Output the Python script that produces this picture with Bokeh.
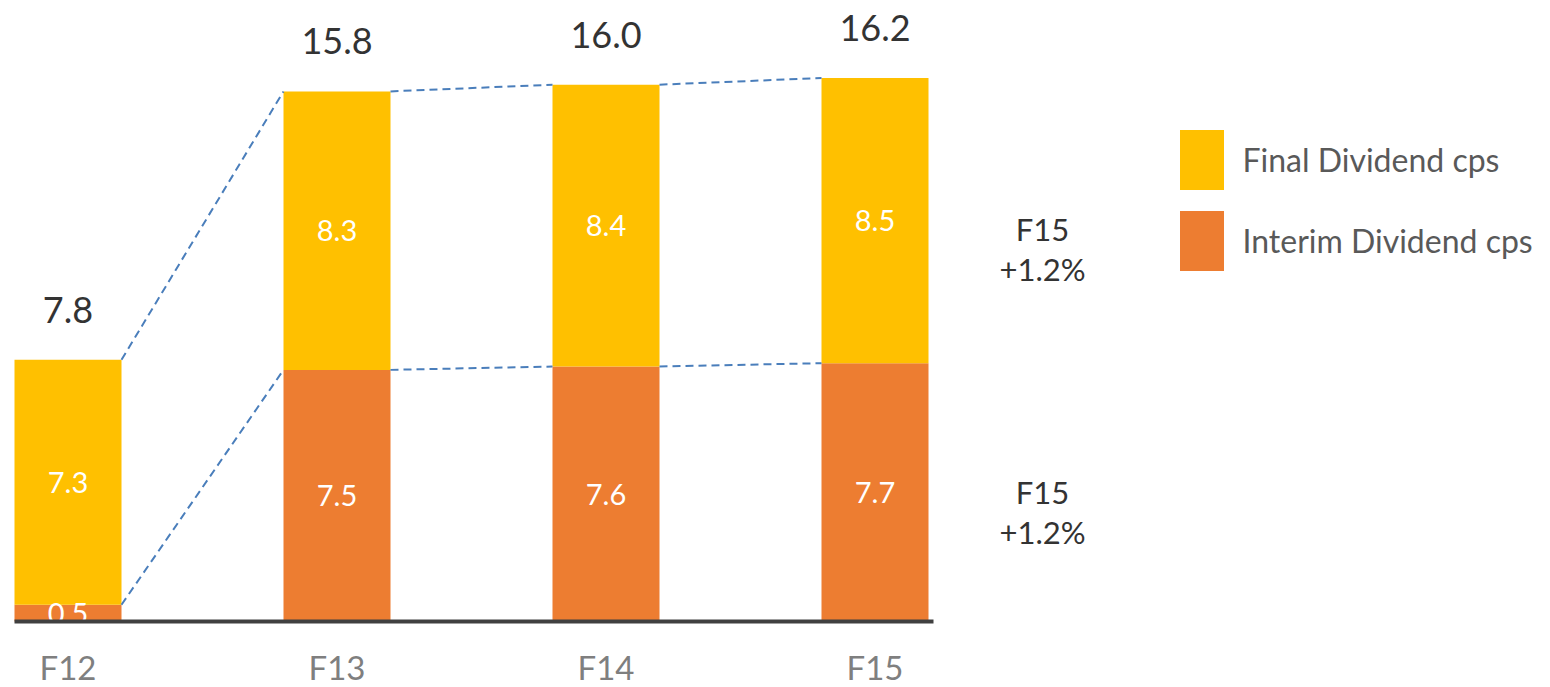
from bokeh.plotting import figure
from bokeh.models import Range1d, Legend, LegendItem, Label, ColumnDataSource
from bokeh.embed import file_html
from bokeh.resources import INLINE
from bokeh.core.properties import value

# ---- data ----
categories = ["F12", "F13", "F14", "F15"]
interim = [0.5, 7.5, 7.6, 7.7]
final = [7.3, 8.3, 8.4, 8.5]
totals = [7.8, 15.8, 16.0, 16.2]
series_names = ["Final Dividend cps", "Interim Dividend cps"]
growth_lines = ["F15", "+1.2%"]

FONT = "Lato"
YELLOW = "#FFC000"
ORANGE = "#ED7D31"
DASH_BLUE = "#4A7EBB"

# ---- geometry (pixel scale of the frame) ----
W_PX, H_PX = 1550, 687
PX_PER_CAT = 269.0
PX_PER_UNIT = 33.55
X_FIRST_PX = 67.5
BASE_PX = 621.0
BAR_W = 107.0 / PX_PER_CAT

x_start = -X_FIRST_PX / PX_PER_CAT
x_end = x_start + W_PX / PX_PER_CAT
y_end = BASE_PX / PX_PER_UNIT
y_start = -(H_PX - BASE_PX) / PX_PER_UNIT

p = figure(width=W_PX, height=H_PX, output_backend="svg", toolbar_location=None,
           x_range=Range1d(x_start, x_end), y_range=Range1d(y_start, y_end),
           min_border=0, min_border_left=0, min_border_right=0,
           min_border_top=0, min_border_bottom=0)
p.xaxis.visible = False
p.yaxis.visible = False
p.grid.visible = False
p.outline_line_color = None
p.background_fill_color = "white"
p.border_fill_color = "white"

xs = list(range(len(categories)))
src = ColumnDataSource(dict(
    x=xs, cat=categories, interim=interim, final=final, totals=totals,
    interim_mid=[v / 2 for v in interim],
    final_mid=[i + f / 2 for i, f in zip(interim, final)],
    interim_txt=[f"{v:.1f}" for v in interim],
    final_txt=[f"{v:.1f}" for v in final],
    total_txt=[f"{v:.1f}" for v in totals],
    zero=[0] * len(categories),
))

r_int, r_fin = p.vbar_stack(["interim", "final"], x="x", width=BAR_W, source=src,
                             color=[ORANGE, YELLOW], line_color=None)

# dashed connectors between bars
xs0 = [i + BAR_W / 2 for i in xs[:-1]]
xs1 = [i + 1 - BAR_W / 2 for i in xs[:-1]]
p.segment(x0=xs0, y0=totals[:-1], x1=xs1, y1=totals[1:],
          line_color=DASH_BLUE, line_width=2, line_dash="8 5")
p.segment(x0=xs0, y0=interim[:-1], x1=xs1, y1=interim[1:],
          line_color=DASH_BLUE, line_width=2, line_dash="8 5")

# inner labels
p.text(x="x", y="interim_mid", text="interim_txt", source=src, text_color="white",
       text_font=value(FONT), text_font_size="29px", text_align="center",
       text_baseline="middle")
p.text(x="x", y="final_mid", text="final_txt", source=src, text_color="white",
       text_font=value(FONT), text_font_size="29px", text_align="center",
       text_baseline="middle")

# totals
p.text(x="x", y="totals", text="total_txt", source=src, text_color="#333333",
       text_font=value(FONT), text_font_size="36px", text_align="center",
       text_baseline="middle", y_offset=-50)

# axis line
p.segment(x0=[x_start + 14 / PX_PER_CAT], y0=[0], x1=[3 + 58.5 / PX_PER_CAT], y1=[0],
          line_color="#404040", line_width=4)

# category labels
p.text(x="x", y="zero", text="cat", source=src, text_color="#7F7F7F",
       text_font=value(FONT), text_font_size="33px", text_align="center",
       text_baseline="middle", y_offset=45)

# growth annotations
for cy in (248, 511):
    for k, t in enumerate(growth_lines):
        p.add_layout(Label(x=1042, y=H_PX - (cy - 20 + 40 * k), x_units="screen",
                           y_units="screen", text=t, text_color="#333333",
                           text_font=FONT, text_font_size="31px",
                           text_align="center", text_baseline="middle"))

# legend (bokeh insets area glyphs by 10% of the glyph box on each side)
GW, GH = 55, 75
legend = Legend(items=[LegendItem(label=series_names[0], renderers=[r_fin]),
                       LegendItem(label=series_names[1], renderers=[r_int])],
                location=(1179 - 0.1 * GW, H_PX - (129 - 0.1 * GH + 2 * GH + 6)),
                orientation="vertical",
                glyph_width=GW, glyph_height=GH, spacing=6, label_standoff=14,
                padding=0, margin=0, border_line_color=None,
                background_fill_alpha=0, label_text_font=FONT,
                label_text_font_size="32px", label_text_color="#595959")
p.add_layout(legend)

open("out.html", "w").write(file_html(p, INLINE))
